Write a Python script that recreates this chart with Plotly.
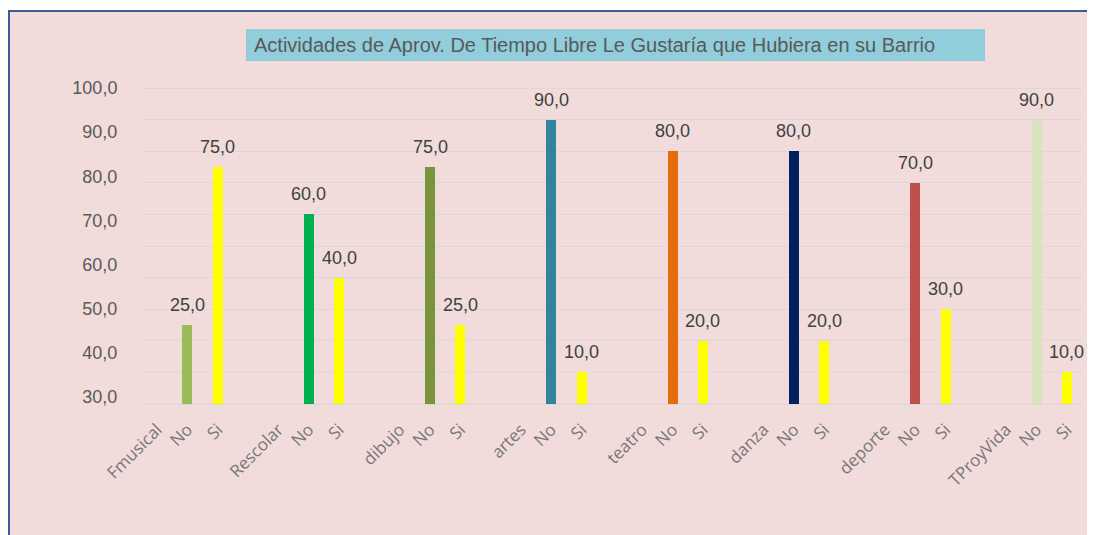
import plotly.graph_objects as go

groups = ["Fmusical", "Rescolar", "dibujo", "artes", "teatro", "danza", "deporte", "TProyVida"]
no_vals = [25, 60, 75, 90, 80, 80, 70, 90]
si_vals = [75, 40, 25, 10, 20, 20, 30, 10]
no_colors = ["#9BBB59", "#00B050", "#77933C", "#31849B", "#E46C0A", "#002060", "#C0504D", "#D7E4BD"]
si_color = "#FFFF00"
yaxis_labels = ["30,0", "40,0", "50,0", "60,0", "70,0", "80,0", "90,0", "100,0"]
yaxis_label_vals = [30, 40, 50, 60, 70, 80, 90, 100]
title_text = "Actividades de Aprov. De Tiempo Libre Le Gustaría que Hubiera en su Barrio"

OFF = 8  # page body margin
W, H = 1095 - OFF, 535 - OFF
# plot area in reference pixels: x 142..1082, y 84..407 (0 at 404, 100 at 88)
PX_L, PX_R, PX_T, PX_B = 142, 1082, 84, 407
L, R = PX_L - OFF, W - (PX_R - OFF)
T, B = PX_T - OFF, H - (PX_B - OFF)
pw, ph = W - L - R, H - T - B
scale = (404 - 88) / 100.0  # px per unit


def px_x(p):
    return (p - OFF - L) / pw


def px_y(p):
    return (H - B - (p - OFF)) / ph


def fmt(v):
    return f"{v:.1f}".replace(".", ",")


x_no = [4 * k + 1 for k in range(len(groups))]
x_si = [4 * k + 2 for k in range(len(groups))]

tickvals, ticktext = [], []
for k, g in enumerate(groups):
    tickvals += [4 * k, 4 * k + 1, 4 * k + 2]
    ticktext += [g, "No", "Si"]

fig = go.Figure()
fig.add_trace(go.Bar(
    x=x_no, y=no_vals, marker=dict(color=no_colors, line=dict(width=0)),
    width=0.33, showlegend=False, hoverinfo="skip"))
fig.add_trace(go.Bar(
    x=x_si, y=si_vals, marker=dict(color=si_color, line=dict(width=0)),
    width=0.33, showlegend=False, hoverinfo="skip"))
# invisible trace to carry the displayed left axis labels
fig.add_trace(go.Scatter(x=[0], y=[50], yaxis="y2", mode="markers",
                         marker=dict(opacity=0), showlegend=False, hoverinfo="skip"))

annotations = []
for xs, vals in ((x_no, no_vals), (x_si, si_vals)):
    for xv, v in zip(xs, vals):
        annotations.append(dict(x=xv, y=v, xref="x", yref="y", text=fmt(v), showarrow=False,
                                yanchor="middle", xanchor="center", yshift=20,
                                font=dict(family="Liberation Sans, Arial", size=18, color="#404040")))
annotations.append(dict(text=title_text, xref="paper", yref="paper", x=px_x(252), y=px_y(45),
                        xanchor="left", yanchor="middle", showarrow=False,
                        font=dict(family="Liberation Sans, Arial", size=20, color="#595959")))

# label scale: 30 at px 397, 100 at px 88
slope = (397 - 88) / 70.0
y2_lo = 30 - (PX_B - 397) / slope
y2_hi = 100 + (88 - PX_T) / slope

y_lo = -(PX_B - 404) / scale
y_hi = 100 + (88 - PX_T) / scale

fig.update_layout(
    width=W, height=H,
    margin=dict(l=L, r=R, t=T, b=B, autoexpand=False),
    paper_bgcolor="#F2DCDB", plot_bgcolor="rgba(0,0,0,0)",
    barmode="overlay",
    bargap=0,
    xaxis=dict(range=[-0.5, 30.5], tickmode="array", tickvals=tickvals, ticktext=ticktext,
               tickangle=-45, showgrid=False, zeroline=False, showline=False, automargin=False,
               ticks="outside", ticklen=5, tickcolor="rgba(0,0,0,0)",
               tickfont=dict(family="Open Sans, Liberation Sans", size=17, color="#777777")),
    yaxis=dict(range=[y_lo, y_hi], dtick=10, tick0=0, showgrid=True, automargin=False,
               gridcolor="#D9D9D9", gridwidth=1, zeroline=False, showticklabels=False,
               showline=False),
    yaxis2=dict(overlaying="y", side="left", range=[y2_lo, y2_hi], tickmode="array",
                tickvals=yaxis_label_vals, ticktext=yaxis_labels, showgrid=False,
                zeroline=False, showline=False, ticks="outside", ticklen=20, automargin=False,
                tickcolor="rgba(0,0,0,0)",
                tickfont=dict(family="Liberation Sans, Arial", size=18, color="#595959")),
    shapes=[
        dict(type="rect", xref="paper", yref="paper", layer="below",
             x0=px_x(0), x1=px_x(9), y0=px_y(0), y1=px_y(545),
             fillcolor="white", line=dict(width=0)),
        dict(type="rect", xref="paper", yref="paper", layer="below",
             x0=px_x(0), x1=px_x(1100), y0=px_y(0), y1=px_y(11),
             fillcolor="white", line=dict(width=0)),
        dict(type="rect", xref="paper", yref="paper", layer="below",
             x0=px_x(9), x1=px_x(1100), y0=px_y(11), y1=px_y(545),
             fillcolor="#F2DCDB", line=dict(color="#3A5E93", width=2)),
        dict(type="rect", xref="paper", yref="paper", layer="below",
             x0=px_x(246), x1=px_x(985), y0=px_y(61), y1=px_y(29),
             fillcolor="#92CDDC", line=dict(width=0)),
    ],
    annotations=annotations,
)

fig.write_html("out.html")
